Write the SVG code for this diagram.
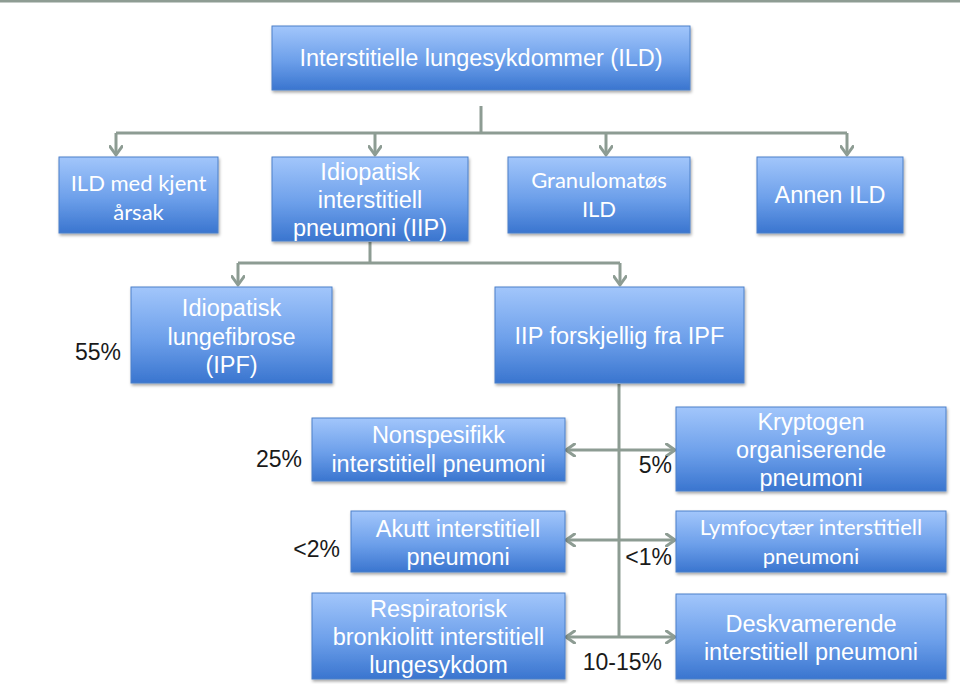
<svg xmlns="http://www.w3.org/2000/svg" width="960" height="684" viewBox="0 0 960 684">
<defs>
<linearGradient id="blue" x1="0" y1="0" x2="0" y2="1">
<stop offset="0" stop-color="#a2c6fb"/>
<stop offset="0.55" stop-color="#6c9fea"/>
<stop offset="1" stop-color="#3a75cf"/>
</linearGradient>
<filter id="sh" x="-10%" y="-10%" width="120%" height="130%">
<feDropShadow dx="1" dy="2" stdDeviation="1.5" flood-color="#000" flood-opacity="0.35"/>
</filter>
<marker id="ah" viewBox="0 0 12 14" refX="10.5" refY="7" markerWidth="12" markerHeight="14" markerUnits="userSpaceOnUse" orient="auto-start-reverse">
<path d="M2,1 L10.5,7 L2,13" fill="none" stroke="#8d9c93" stroke-width="3" stroke-linecap="round" stroke-linejoin="round"/>
</marker>
</defs>
<style>
.box{fill:url(#blue);stroke:#4d80c9;stroke-width:1;filter:url(#sh)}
.t{font-family:"Liberation Sans",Arial,sans-serif;font-size:23.5px;fill:#fff;text-anchor:middle}
.c{font-family:Lato,"Open Sans",sans-serif;font-size:22px;fill:#fff;text-anchor:middle}
.p{font-family:"Liberation Sans",Arial,sans-serif;font-size:23px;fill:#1a1a1a;text-anchor:end}
.ln{fill:none;stroke:#8d9c93;stroke-width:3}
.ar{fill:none;stroke:#8d9c93;stroke-width:3;marker-end:url(#ah)}
.da{fill:none;stroke:#8d9c93;stroke-width:3;marker-start:url(#ah);marker-end:url(#ah)}
</style>
<rect width="960" height="684" fill="#fff"/>
<line x1="0" y1="1" x2="960" y2="1" stroke="#8e9c93" stroke-width="3"/>

<g id="connectors">
<path class="ln" d="M481,106 V133 M116,133 H847"/>
<path class="ar" d="M116,133 V155"/>
<path class="ar" d="M375,133 V155"/>
<path class="ar" d="M606,133 V155"/>
<path class="ar" d="M847,133 V155"/>
<path class="ln" d="M370,242 V263 M238,263 H620"/>
<path class="ar" d="M238,263 V285"/>
<path class="ar" d="M620,263 V285"/>
<path class="ln" d="M619,384 V637"/>
<path class="da" d="M566,450 H675"/>
<path class="da" d="M566,540 H675"/>
<path class="da" d="M566,637 H675"/>
</g>

<g id="ild">
<rect class="box" x="272" y="26" width="418" height="64"/>
<text class="t" x="481" y="66" font-size="23">Interstitielle lungesykdommer (ILD)</text>
</g>

<g id="kjent">
<rect class="box" x="59" y="157" width="159" height="76"/>
<text class="c" x="138.5" y="191">ILD med kjent</text>
<text class="c" x="138.5" y="220">årsak</text>
</g>

<g id="iip">
<rect class="box" x="272" y="157" width="196" height="84"/>
<text class="t" x="370" y="180">Idiopatisk</text>
<text class="t" x="370" y="208">interstitiell</text>
<text class="t" x="370" y="236">pneumoni (IIP)</text>
</g>

<g id="granulomatos">
<rect class="box" x="508" y="157" width="182" height="76"/>
<text class="c" x="599" y="188">Granulomatøs</text>
<text class="c" x="599" y="217">ILD</text>
</g>

<g id="annen">
<rect class="box" x="757" y="157" width="146" height="76"/>
<text class="t" x="830" y="203">Annen ILD</text>
</g>

<g id="ipf">
<text class="p" x="121" y="360">55%</text>
<rect class="box" x="131" y="287" width="201" height="96"/>
<text class="t" x="231.5" y="316">Idiopatisk</text>
<text class="t" x="231.5" y="345">lungefibrose</text>
<text class="t" x="231.5" y="373">(IPF)</text>
</g>

<g id="iip-ikke-ipf">
<rect class="box" x="495" y="287" width="249" height="96"/>
<text class="t" x="619.5" y="344">IIP forskjellig fra IPF</text>
</g>

<g id="nsip">
<text class="p" x="302" y="467">25%</text>
<rect class="box" x="312" y="418" width="253" height="63"/>
<text class="t" x="438.5" y="443">Nonspesifikk</text>
<text class="t" x="438.5" y="472">interstitiell pneumoni</text>
</g>

<g id="aip">
<text class="p" x="340" y="557">&lt;2%</text>
<rect class="box" x="351" y="511" width="214" height="61"/>
<text class="t" x="458" y="537">Akutt interstitiell</text>
<text class="t" x="458" y="565">pneumoni</text>
</g>

<g id="rbild">
<rect class="box" x="312" y="593" width="253" height="86"/>
<text class="t" x="438.5" y="617">Respiratorisk</text>
<text class="t" x="438.5" y="645">bronkiolitt interstitiell</text>
<text class="t" x="438.5" y="673">lungesykdom</text>
</g>

<g id="cop">
<text class="p" x="672" y="473">5%</text>
<rect class="box" x="676" y="407" width="270" height="84"/>
<text class="t" x="811" y="430">Kryptogen</text>
<text class="t" x="811" y="458">organiserende</text>
<text class="t" x="811" y="486">pneumoni</text>
</g>

<g id="lip">
<text class="p" x="672" y="565">&lt;1%</text>
<rect class="box" x="676" y="511" width="270" height="61"/>
<text class="c" x="811" y="535" font-size="21">Lymfocytær interstitiell</text>
<text class="c" x="811" y="564" font-size="21">pneumoni</text>
</g>

<g id="dip">
<text class="p" x="662" y="670">10-15%</text>
<rect class="box" x="676" y="594" width="270" height="85"/>
<text class="t" x="811" y="632">Deskvamerende</text>
<text class="t" x="811" y="660">interstitiell pneumoni</text>
</g>
</svg>
